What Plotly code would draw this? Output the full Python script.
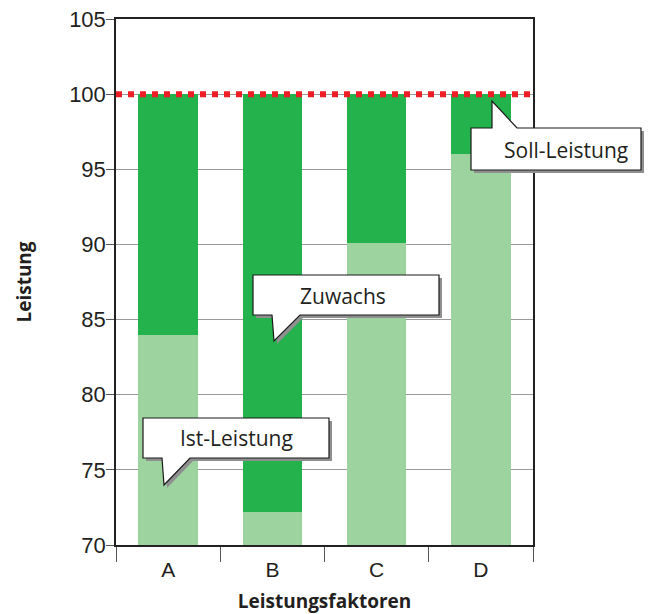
import plotly.graph_objects as go

categories = ["A", "B", "C", "D"]
ist_leistung = [84.0, 72.2, 90.1, 96.0]
soll_leistung = 100
zuwachs = [soll_leistung - v for v in ist_leistung]
y_ticks = [70, 75, 80, 85, 90, 95, 100, 105]

DARK = "#23b24b"
LIGHT = "#9dd39e"
TXT = "#231f20"
FONT = "Open Sans"

# plot area in pixels (for callout decoration placement)
L, R, T, B = 116, 533, 19, 545
W, H = 655, 614


def P(x, y):
    return (x - L) / (R - L), (B - y) / (B - T)


def path(pts, dx=0, dy=0):
    s = []
    for i, (x, y) in enumerate(pts):
        px, py = P(x + dx, y + dy)
        s.append(("M" if i == 0 else "L") + f"{px:.5f},{py:.5f}")
    return " ".join(s) + " Z"


fig = go.Figure()
fig.add_trace(go.Bar(x=categories, y=ist_leistung, name="Ist-Leistung",
                     marker=dict(color=LIGHT, line=dict(width=0))))
fig.add_trace(go.Bar(x=categories, y=zuwachs, name="Zuwachs",
                     marker=dict(color=DARK, line=dict(width=0))))

shapes = []
# Soll line
shapes.append(dict(type="line", xref="x domain", yref="y", x0=0, x1=1,
                   y0=soll_leistung, y1=soll_leistung, layer="above",
                   line=dict(color="#ee1c25", width=6, dash="6px,6px")))

callouts = [
    ("Soll-Leistung", [(471, 128), (492, 128), (492, 101), (517, 128), (641, 128),
                       (641, 170), (471, 170)], (566, 150)),
    ("Zuwachs", [(253, 275), (439, 275), (439, 315), (300, 315), (274, 341),
                 (272, 315), (253, 315)], (343, 296)),
    ("Ist-Leistung", [(143, 418), (329, 418), (329, 458), (190, 458), (164, 485),
                      (162, 458), (143, 458)], (236, 438)),
]
annotations = []
for text, pts, (tx, ty) in callouts:
    shapes.append(dict(type="path", xref="paper", yref="paper", layer="above",
                       path=path(pts, 3, 3), fillcolor="#8f8f8f",
                       line=dict(width=0)))
    shapes.append(dict(type="path", xref="paper", yref="paper", layer="above",
                       path=path(pts), fillcolor="white",
                       line=dict(color="#1a1a1a", width=1.2)))
    ax, ay = P(tx, ty)
    annotations.append(dict(text=text, x=ax, y=ay, xref="paper", yref="paper",
                            showarrow=False, xanchor="center", yanchor="middle",
                            font=dict(family=FONT, size=21, color=TXT)))

fig.update_layout(
    width=W, height=H,
    margin=dict(l=L, r=W - R, t=T, b=H - B),
    barmode="stack", bargap=0.43,
    showlegend=False,
    plot_bgcolor="white", paper_bgcolor="white",
    shapes=shapes, annotations=annotations,
    xaxis=dict(
        type="category", tickson="boundaries", ticks="outside", ticklen=15,
        tickcolor="#555555", tickwidth=1.2, automargin=False,
        ticklabelstandoff=5,
        showline=True, linecolor="#222222", linewidth=1.5, mirror=True,
        showgrid=False,
        tickfont=dict(family="Liberation Sans", size=21, color=TXT),
        title=dict(text="<b>Leistungsfaktoren</b>", standoff=24,
                   font=dict(family=FONT, size=19, color=TXT)),
    ),
    yaxis=dict(
        range=[70, 105], tickvals=y_ticks, ticks="outside", ticklen=8,
        tickcolor="#555555", tickwidth=1.2, automargin=False,
        ticklabelstandoff=-4,
        showline=True, linecolor="#222222", linewidth=1.5, mirror=True,
        showgrid=True, gridcolor="#9a9a9a", gridwidth=1.3,
        tickfont=dict(family="Liberation Sans", size=22, color=TXT),
        title=dict(text="<b>Leistung</b>", standoff=32,
                   font=dict(family=FONT, size=19, color=TXT)),
    ),
)

fig.write_html("out.html", config={"displayModeBar": False},
               post_script="document.body.style.margin='0';")
